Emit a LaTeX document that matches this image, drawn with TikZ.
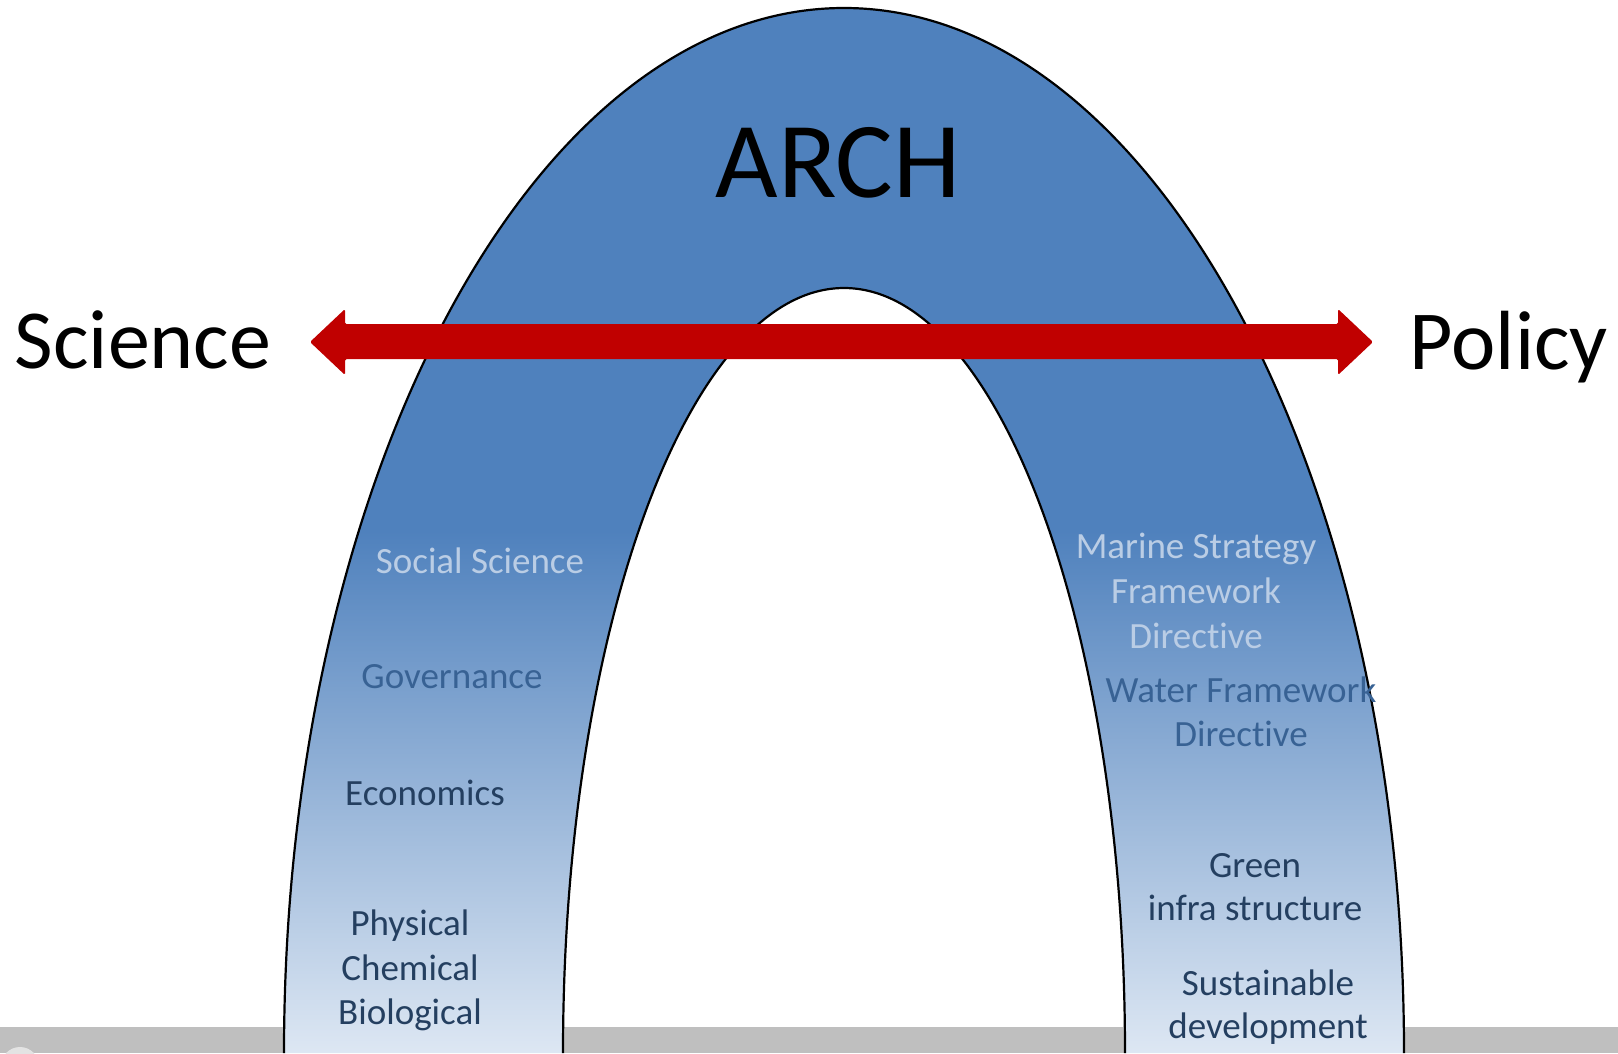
\documentclass[tikz,border=0pt]{standalone}
\usepackage{fontspec}
\setmainfont{Carlito}[Ligatures=NoCommon]
\definecolor{archtop}{HTML}{4F81BD}
\definecolor{archbot}{HTML}{DDE7F3}
\definecolor{arrowred}{HTML}{C00000}
\definecolor{bargray}{HTML}{BFBFBF}
\definecolor{circgray}{HTML}{E3E3E3}
\definecolor{txtlight}{HTML}{BACDE5}
\definecolor{txtmid}{HTML}{386294}
\definecolor{txtdark}{HTML}{243F60}
\begin{document}
\begin{tikzpicture}[x=1pt,y=-1pt,
  lbl/.style={font=\fontsize{37}{45}\selectfont, anchor=base, inner sep=0pt},
  bigword/.style={font=\fontsize{84}{100}\selectfont, anchor=base, inner sep=0pt, text=black},
  archline/.style={draw=black, line width=2.2pt}]
\useasboundingbox (0,0) rectangle (1618,1053);
\clip (0,0) rectangle (1618,1053);
\fill[white] (0,0) rectangle (1618,1053);
% bottom bar
\fill[bargray] (0,1027) rectangle (1618,1053);
\fill[circgray] (20,1066) circle[radius=19];
% arch body
\shade[top color=archtop, bottom color=archbot, middle color=archtop]
  (284,1053) arc[start angle=180, end angle=360, x radius=560, y radius=1045]
  -- (1125,1053) arc[start angle=360, end angle=180, x radius=281, y radius=765]
  -- cycle;
\draw[archline] (284,1053) arc[start angle=180, end angle=360, x radius=560, y radius=1045];
\draw[archline] (1125,1053) arc[start angle=360, end angle=180, x radius=281, y radius=765];
% double arrow
\fill[arrowred, rounded corners=1.5pt]
  (310,342) -- (345,309) -- (345,324) -- (1338,324) -- (1338,309) -- (1373,342)
  -- (1338,375) -- (1338,359) -- (345,359) -- (345,375) -- cycle;
% titles
\node[font=\fontsize{108}{130}\selectfont, anchor=base, inner sep=0pt] (arch) at (838,197) {ARCH};
\node[bigword] (science) at (143,368) {Science};
\node[bigword] (policy) at (1509,369) {Policy};
% left leg labels
\node[lbl, text=txtlight] (social) at (480,573) {Social Science};
\node[lbl, text=txtmid] (gov) at (452,688) {Governance};
\node[lbl, text=txtdark] (econ) at (425,805) {Economics};
\node[lbl, text=txtdark] (phys) at (410,935) {Physical};
\node[lbl, text=txtdark] (chem) at (410,980) {Chemical};
\node[lbl, text=txtdark] (bio) at (410,1024) {Biological};
% right leg labels
\node[lbl, text=txtlight] (msfdA) at (1196,558) {Marine Strategy};
\node[lbl, text=txtlight] (msfdB) at (1196,603) {Framework};
\node[lbl, text=txtlight] (msfdC) at (1196,648) {Directive};
\node[lbl, text=txtmid] (wfdA) at (1241,702) {Water Framework};
\node[lbl, text=txtmid] (wfdB) at (1241,746) {Directive};
\node[lbl, text=txtdark] (greenA) at (1255,877) {Green};
\node[lbl, text=txtdark] (greenB) at (1255,920) {infra structure};
\node[lbl, text=txtdark] (sustA) at (1268,995) {Sustainable};
\node[lbl, text=txtdark] (sustB) at (1268,1038) {development};
\end{tikzpicture}
\end{document}
